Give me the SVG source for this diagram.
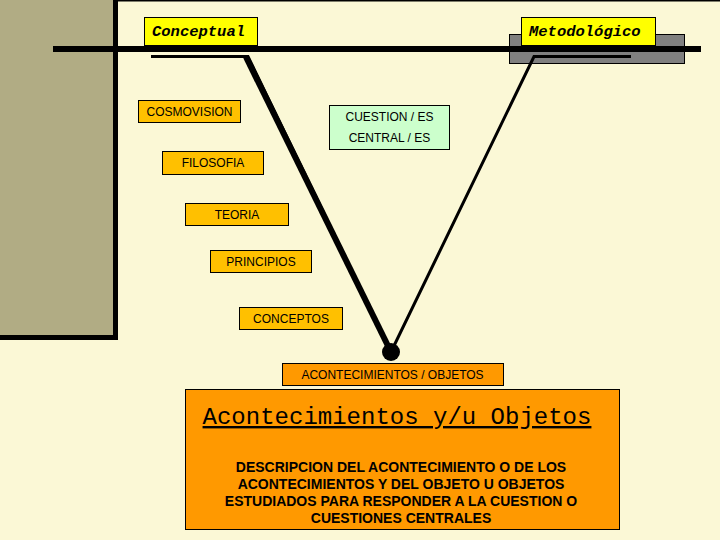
<svg xmlns="http://www.w3.org/2000/svg" width="720" height="540" viewBox="0 0 720 540">
<style>
.lbl{font-family:"Liberation Sans",Arial,sans-serif;font-size:12px;fill:#000;text-anchor:middle}
.head{font-family:"Liberation Mono","Courier New",monospace;font-size:15.5px;font-style:italic;font-weight:bold;fill:#000}
.gold{fill:#FFC000;stroke:#000;stroke-width:1}
.orange{fill:#FF9900;stroke:#000;stroke-width:1}
.body{font-family:"Liberation Sans",Arial,sans-serif;font-size:14px;font-weight:bold;fill:#000;text-anchor:middle}
.title{font-family:"Liberation Mono","Courier New",monospace;font-size:24px;fill:#000;text-anchor:middle;text-decoration:underline}
</style>
<rect x="0" y="0" width="720" height="540" fill="#FBF8D6"/>
<rect x="0" y="0" width="720" height="1.5" fill="#000"/>
<g id="side-panel">
<rect x="0" y="0" width="113" height="335" fill="#B1AC84"/>
<rect x="113" y="0" width="5" height="340" fill="#000"/>
<rect x="0" y="335" width="118" height="5" fill="#000"/>
</g>
<g id="metodologico-bg">
<rect x="509.5" y="34.5" width="175" height="29" fill="#808080" stroke="#000" stroke-width="1"/>
</g>
<g id="connectors">
<line x1="53" y1="49" x2="701" y2="49" stroke="#000" stroke-width="6"/>
<polyline points="151,56.5 248,56.5 391,352" fill="none" stroke="#000" stroke-width="3" stroke-linejoin="miter"/>
<line x1="246" y1="57" x2="391" y2="352" stroke="#000" stroke-width="6"/>
<polyline points="631,56.5 534,56.5 391,352" fill="none" stroke="#000" stroke-width="3"/>
<circle cx="391" cy="352" r="9" fill="#000"/>
</g>
<g id="conceptual">
<rect x="144.5" y="17.5" width="113" height="28" fill="#FFFF00" stroke="#000" stroke-width="1"/>
<text class="head" x="152" y="36">Conceptual</text>
</g>
<g id="metodologico">
<rect x="521.5" y="17.5" width="134" height="28" fill="#FFFF00" stroke="#000" stroke-width="1"/>
<text class="head" x="529" y="36">Metodológico</text>
</g>
<g id="cosmovision">
<rect class="gold" x="138.5" y="100.5" width="102" height="22"/>
<text class="lbl" x="189.5" y="115.5">COSMOVISION</text>
</g>
<g id="cuestion">
<rect x="329.5" y="105.5" width="120" height="44" fill="#CCFFCC" stroke="#000" stroke-width="1"/>
<text class="lbl" x="389.5" y="120.5">CUESTION / ES</text>
<text class="lbl" x="389.5" y="141.5">CENTRAL / ES</text>
</g>
<g id="filosofia">
<rect class="gold" x="162.5" y="151.5" width="101" height="23"/>
<text class="lbl" x="213" y="167">FILOSOFIA</text>
</g>
<g id="teoria">
<rect class="gold" x="185.5" y="203.5" width="103" height="22"/>
<text class="lbl" x="237" y="218.5">TEORIA</text>
</g>
<g id="principios">
<rect class="gold" x="210.5" y="250.5" width="101" height="22"/>
<text class="lbl" x="261" y="265.5">PRINCIPIOS</text>
</g>
<g id="conceptos">
<rect class="gold" x="239.5" y="307.5" width="103" height="22"/>
<text class="lbl" x="291" y="322.5">CONCEPTOS</text>
</g>
<g id="acontecimientos-objetos">
<rect class="orange" x="282.5" y="363.5" width="221" height="22"/>
<text class="lbl" x="392.5" y="378.5">ACONTECIMIENTOS / OBJETOS</text>
</g>
<g id="descripcion">
<rect class="orange" x="185.5" y="389.5" width="434" height="140"/>
<text class="title" x="397" y="424">Acontecimientos y/u Objetos</text>
<text class="body" x="401" y="472">DESCRIPCION DEL ACONTECIMIENTO O DE LOS</text>
<text class="body" x="401" y="489">ACONTECIMIENTOS Y DEL OBJETO U OBJETOS</text>
<text class="body" x="401" y="506">ESTUDIADOS PARA RESPONDER A LA CUESTION O</text>
<text class="body" x="401" y="523">CUESTIONES CENTRALES</text>
</g>
</svg>
